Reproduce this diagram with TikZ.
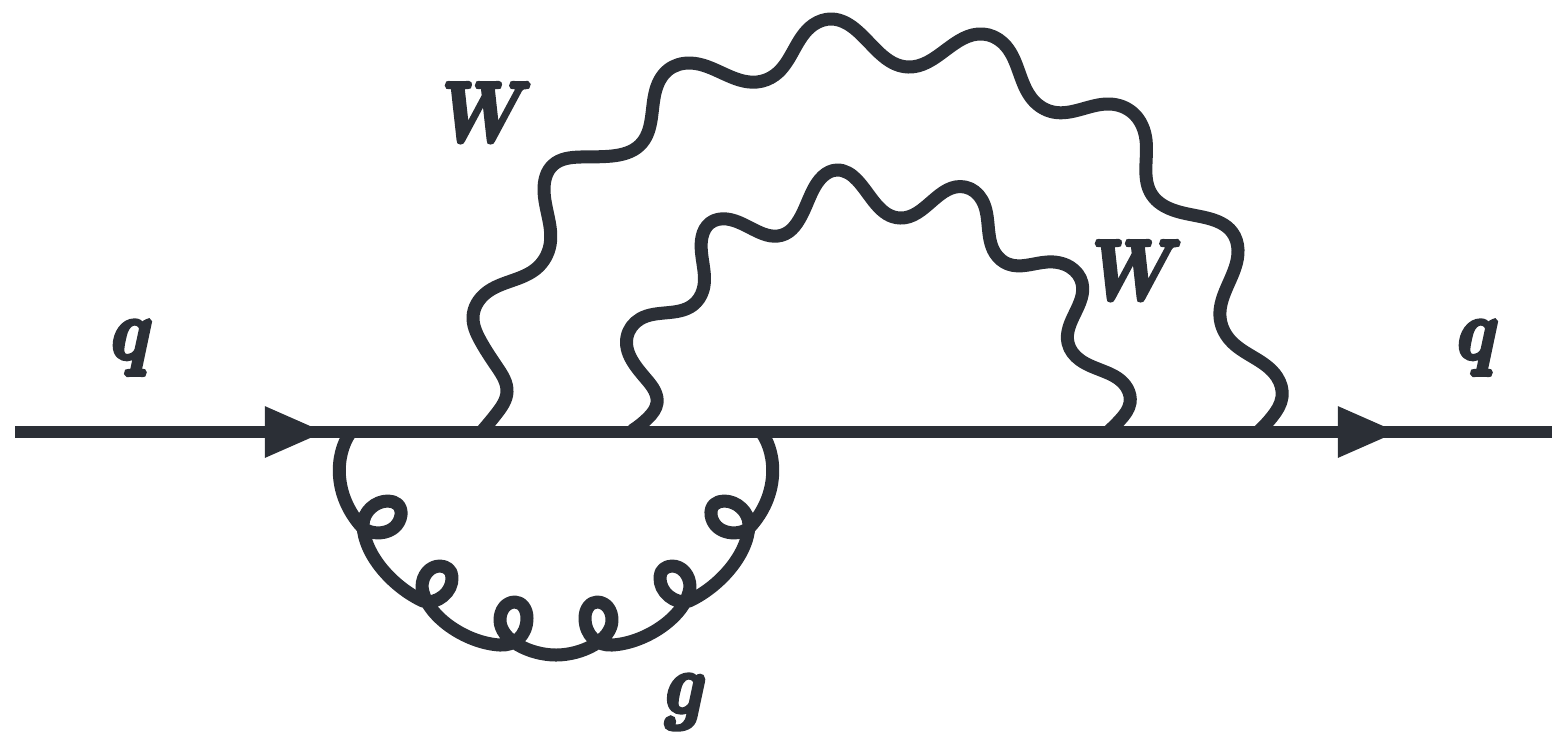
\documentclass[tikz,border=0pt]{standalone}
\usepackage{fix-cm}
\usepackage{graphicx}
\usetikzlibrary{arrows.meta, hobby}
\definecolor{inkdark}{HTML}{2B2F36}
\newcommand{\heavylabel}[1]{\scalebox{0.85}[1]{\special{pdf:code q 2 Tr 1.2 w}$#1$\special{pdf:code Q}}}
\tikzset{
    fermion/.style={draw=inkdark, line width=0.12cm},
    fermiontip/.style={draw=inkdark, line width=0.12cm, -{Triangle[length=0.6cm, width=0.48cm]}},
    boson/.style={draw=inkdark, line width=0.13cm, line cap=round, line join=round},
    particle/.style={text=inkdark, inner sep=0pt, font=\fontsize{24}{24}\selectfont\boldmath},
}
\begin{document}
\begin{tikzpicture}[x=0.01cm, y=-0.01cm, use Hobby shortcut]
            \useasboundingbox (0, 0) rectangle (1552, 732);

            % Nodes
            \node[particle] (qin) at (132, 348) {\heavylabel{q}};
            \node[particle] (qout) at (1478, 348) {\heavylabel{q}};
            \node[particle] (Wouter) at (487, 112) {\heavylabel{W}};
            \node[particle] (Winner) at (1137, 270) {\heavylabel{W}};
            \node[particle] (g) at (686, 702) {\heavylabel{g}};

            \coordinate (start) at (15, 432);
            \coordinate (tipin) at (325, 432);
            \coordinate (tipout) at (1398, 432);
            \coordinate (end) at (1552, 432);

            % Edges
            \draw[fermion] (start) -- (end);
            \draw[fermiontip] (start) -- (tipin);
            \draw[fermiontip] (start) -- (tipout);

            % outer W
            \draw[boson] (483,430) .. (497,413) .. (507,392) .. (497,367) .. (480,340) .. (473,317) .. (486,293)
                .. (537,268) .. (550,245) .. (544,190) .. (553,165) .. (580,157) .. (612,156) .. (640,145)
                .. (655,93) .. (668,70) .. (690,63) .. (757,82) .. (775,75) .. (813,25)
                .. (832,19) .. (855,29) .. (908,67) .. (983,34) .. (1003,43) .. (1033,100)
                .. (1053,112) .. (1110,104) .. (1133,113) .. (1146,140) .. (1152,195) .. (1173,210)
                .. (1207,218) .. (1232,232) .. (1238,250) .. (1220,317) .. (1230,340) .. (1277,377)
                .. (1282,397) .. (1272,417) .. (1260,430);

            % inner W
            \draw[boson] (633,430) .. (648,418) .. (657,403) .. (647,380) .. (627,337) .. (640,319) .. (693,305)
                .. (703,290) .. (702,237) .. (710,223) .. (727,219) .. (785,234) .. (797,223)
                .. (813,190) .. (837,170) .. (857,180) .. (900,218) .. (965,187) .. (982,200)
                .. (995,253) .. (1008,264) .. (1047,262) .. (1070,267) .. (1082,283) .. (1068,343)
                .. (1080,360) .. (1127,388) .. (1130,403) .. (1120,420) .. (1110,430);

            % gluon
            \draw[boson] (350,433) .. controls (335,455) and (333,495) .. (362,527)
                .. controls (372,537) and (398,535) .. (401,515)
                .. controls (402,505) and (395,501) .. (388,501)
                .. controls (375,501) and (363,512) .. (363,525)
                .. controls (364,555) and (393,587) .. (423,601)
                .. controls (437,605) and (453,592) .. (452,577)
                .. controls (452,570) and (446,566) .. (440,566)
                .. controls (430,566) and (422,575) .. (422,587)
                .. controls (425,615) and (465,643) .. (500,645)
                .. controls (515,646) and (527,635) .. (527,618)
                .. controls (527,608) and (521,602) .. (515,602)
                .. controls (506,602) and (500,610) .. (500,620)
                .. controls (500,640) and (530,655) .. (556,655)
                .. controls (582,655) and (612,640) .. (612,620)
                .. controls (612,610) and (606,602) .. (597,602)
                .. controls (591,602) and (585,608) .. (585,618)
                .. controls (585,635) and (597,646) .. (612,645)
                .. controls (647,643) and (687,615) .. (690,587)
                .. controls (690,575) and (682,566) .. (672,566)
                .. controls (666,566) and (660,570) .. (660,577)
                .. controls (659,592) and (675,605) .. (689,601)
                .. controls (719,587) and (748,555) .. (749,525)
                .. controls (749,512) and (737,501) .. (724,501)
                .. controls (717,501) and (710,505) .. (711,515)
                .. controls (714,535) and (740,537) .. (750,527)
                .. controls (779,495) and (777,455) .. (762,433);
        \end{tikzpicture}
\end{document}
